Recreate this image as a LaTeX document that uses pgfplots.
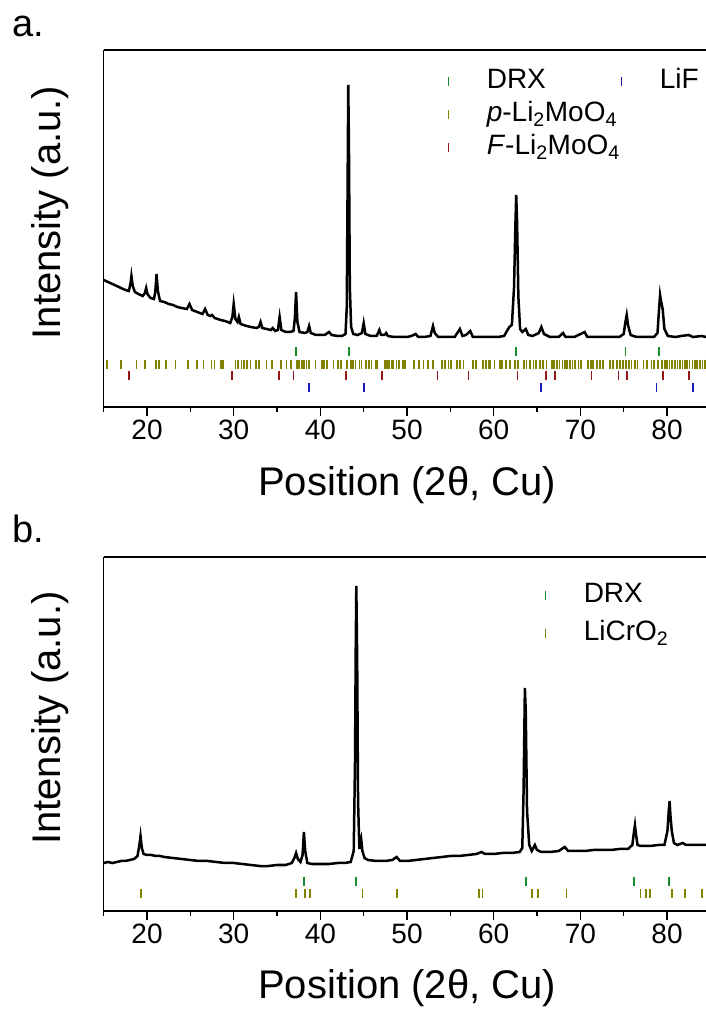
\documentclass[border=0pt]{standalone}
\usepackage{pgfplots}
\pgfplotsset{compat=1.18}
\usepackage{fontspec}
\setmainfont{Liberation Sans}
\definecolor{drxgreen}{RGB}{25,140,45}
\definecolor{olivebar}{RGB}{130,130,0}
\definecolor{fred}{RGB}{150,25,25}
\definecolor{lifblue}{RGB}{25,25,180}
\pgfplotsset{
  xrdaxis/.style={
    scale only axis,
    width=602.3pt,
    xmin=15, xmax=84.5,
    ymin=0,
    axis x line*=box,
    axis y line*=left,
    y axis line style={-},
    x axis line style={-},
    axis line style={line width=1.6pt},
    xtick={20,30,...,80},
    minor xtick={15,25,...,85},
    xtick pos=left,
    ytick=\empty,
    tick align=outside,
    major tick length=9pt,
    minor tick length=5pt,
    every tick/.style={black, line width=1.5pt},
    /pgf/number format/assume math mode=true,
    xticklabel style={font=\fontsize{28}{32}\selectfont},
    xlabel={Position (2θ, Cu)},
    ylabel={Intensity (a.u.)},
    every axis x label/.style={at={(axis description cs:0.504,-0.218)}, anchor=center, font=\fontsize{40}{46}\selectfont},
    every axis y label/.style={at={(axis description cs:-0.0897,0.545)}, anchor=center, rotate=90, font=\fontsize{40}{46}\selectfont},
    legend cell align=left,
    legend style={draw=none, fill=none, font=\fontsize{28}{32}\selectfont,
      nodes={inner sep=0pt, text height=21pt, text depth=7pt},
      /tikz/every even column/.append style={column sep=-2pt}},
  },
  tickrow/.style={only marks, mark=|, mark size=4.5pt, color=#1, mark options={line width=1.7pt, draw=#1},
    legend image code/.code={\path[draw=none] (0pt,0pt) -- (42pt,0pt); \draw[draw=#1, line width=1.2pt] (4pt,-4.5pt) -- (4pt,4.5pt);}},
}
\begin{document}
\begin{tikzpicture}
\path[use as bounding box] (0pt,0pt) rectangle (706pt,1013pt);
\node[anchor=base west, font=\fontsize{38}{44}\selectfont, inner sep=0pt] at (12pt,976pt) {a.};
\node[anchor=base west, font=\fontsize{38}{44}\selectfont, inner sep=0pt] at (12pt,470pt) {b.};
% ---------------- panel a ----------------
\begin{axis}[xrdaxis, at={(103.7pt,606pt)}, anchor=south west, height=357pt, ymax=357,
  legend columns=2,
  legend style={at={(axis description cs:0.561,0.958)}, anchor=north west, row sep=5pt}]
\addplot[black, line width=2.5pt, forget plot] coordinates {
(15.0,127) (15.5,125) (16.0,123) (16.5,121) (17.0,119) (17.5,117) (17.9,116) (18.1,124) (18.2,131) (18.35,121)
(18.6,115) (19.0,113) (19.5,111) (19.75,114) (19.9,119) (20.05,113) (20.4,109) (20.8,108) (20.95,115) (21.1,133)
(21.25,116) (21.5,106) (22.0,105) (22.5,103) (23.0,102) (23.5,100) (24.0,99) (24.6,98) (24.9,103) (25.2,97)
(25.8,95) (26.4,93) (26.7,98) (27.0,92) (27.3,91) (27.5,92) (27.8,89) (28.5,87) (29.0,86) (29.6,84)
(29.85,90) (30.0,103) (30.2,88) (30.45,85) (30.6,90) (30.8,83) (31.5,81) (32.0,80) (32.6,79) (32.9,80)
(33.1,85) (33.3,79) (33.8,78) (34.3,77) (34.5,79) (34.8,76) (35.1,77) (35.3,90) (35.5,77) (36.0,75)
(36.5,75) (36.9,76) (37.05,88) (37.2,115) (37.35,85) (37.6,75) (38.2,74) (38.5,75) (38.7,81) (38.9,74)
(39.5,72) (40.0,72) (40.5,72) (41.0,75) (41.3,72) (42.0,71) (42.5,71) (42.9,73) (43.05,100) (43.15,230)
(43.22,322) (43.3,260) (43.4,120) (43.55,80) (43.8,73) (44.3,72) (44.8,74) (45.0,84) (45.2,73) (45.8,71)
(46.5,71) (46.8,77) (47.0,72) (47.4,72) (47.6,74) (47.8,71) (48.5,70) (49.2,70) (50.0,70) (50.5,71)
(51.0,73) (51.3,70) (52.0,70) (52.7,71) (53.0,81) (53.2,74) (53.6,70) (54.5,70) (55.5,70) (56.1,78)
(56.4,71) (56.8,72) (57.3,76) (57.6,70) (58.5,70) (59.5,70) (60.5,70) (61.2,71) (61.8,80) (62.1,82)
(62.35,120) (62.5,180) (62.6,212) (62.7,185) (62.85,110) (63.05,78) (63.3,75) (63.7,78) (64.0,72) (64.5,71)
(65.2,74) (65.5,80) (65.8,73) (66.5,70) (67.5,70) (68.0,74) (68.3,70) (69.3,70) (70.5,75) (70.8,70)
(72.0,70) (73.5,70) (74.5,70) (75.0,73) (75.2,85) (75.35,92) (75.5,82) (75.8,72) (76.5,70) (77.5,70)
(78.5,70) (78.9,74) (79.1,100) (79.2,112) (79.35,104) (79.5,98) (79.7,78) (80.1,71) (81.0,70) (81.6,71)
(82.5,72) (83.0,70) (84.0,71) (84.5,70)
};
\addplot[tickrow=drxgreen] coordinates {(37.2,55) (43.3,55) (62.6,55) (75.2,55) (79.1,55)};
\addlegendentry{DRX}
\addplot[tickrow=lifblue] coordinates {(38.7,19.5) (45.0,19.5) (65.5,19.5) (78.8,19.5) (83.0,19.5)};
\addlegendentry{LiF}
\addplot[tickrow=olivebar] coordinates {
(15.35,42.5) (16.96,42.5) (18.8,42.5) (19.76,42.5) (21.0,42.5) (21.4,42.5) (22.2,42.5) (23.3,42.5) (24.76,42.5) (25.8,42.5)
(26.5,42.5) (27.45,42.5) (27.8,42.5) (28.5,42.5) (28.8,42.5) (30.2,42.5) (30.5,42.5) (30.9,42.5) (31.2,42.5) (31.5,42.5)
(31.95,42.5) (32.6,42.5) (32.9,42.5) (33.8,42.5) (34.4,42.5) (35.45,42.5) (36.1,42.5) (36.6,42.5) (37.3,42.5) (37.55,42.5)
(37.9,42.5) (38.1,42.5) (38.4,42.5) (38.7,42.5) (39.45,42.5) (40.2,42.5) (40.45,42.5) (40.8,42.5) (41.5,42.5) (42.05,42.5)
(42.4,42.5) (43.1,42.5) (43.5,42.5) (43.8,42.5) (44.05,42.5) (44.5,42.5) (44.75,42.5) (45.3,42.5) (45.6,42.5) (45.9,42.5)
(46.4,42.5) (46.6,42.5) (47.45,42.5) (47.7,42.5) (47.95,42.5) (48.2,42.5) (48.4,42.5) (48.8,42.5) (49.06,42.5) (49.55,42.5)
(49.75,42.5) (50.8,42.5) (51.4,42.5) (51.9,42.5) (52.45,42.5) (53.0,42.5) (54.0,42.5) (54.4,42.5) (54.8,42.5) (55.1,42.5)
(55.8,42.5) (56.1,42.5) (56.5,42.5) (57.6,42.5) (57.95,42.5) (58.8,42.5) (59.1,42.5) (59.4,42.5) (59.6,42.5) (60.1,42.5)
(60.7,42.5) (61.0,42.5) (61.4,42.5) (61.9,42.5) (62.45,42.5) (62.8,42.5) (63.5,42.5) (63.8,42.5) (64.2,42.5) (64.6,42.5)
(64.9,42.5) (65.35,42.5) (65.7,42.5) (66.1,42.5) (66.7,42.5) (66.95,42.5) (67.3,42.5) (67.6,42.5) (67.95,42.5) (68.2,42.5)
(68.5,42.5) (68.8,42.5) (69.1,42.5) (69.4,42.5) (69.8,42.5) (70.1,42.5) (70.9,42.5) (71.2,42.5) (71.5,42.5) (71.95,42.5)
(72.25,42.5) (72.6,42.5) (73.4,42.5) (73.8,42.5) (74.2,42.5) (74.6,42.5) (74.95,42.5) (75.3,42.5) (75.6,42.5) (75.9,42.5)
(76.3,42.5) (76.6,42.5) (77.3,42.5) (77.7,42.5) (78.2,42.5) (78.5,42.5) (79.0,42.5) (79.4,42.5) (79.8,42.5) (80.0,42.5)
(80.3,42.5) (80.6,42.5) (80.9,42.5) (81.2,42.5) (81.5,42.5) (81.8,42.5) (82.1,42.5) (82.3,42.5) (82.6,42.5) (82.95,42.5)
(83.2,42.5) (83.5,42.5) (83.8,42.5) (84.1,42.5) (84.4,42.5)
};
\addlegendentry{\textit{p}-Li\textsubscript{2}MoO\textsubscript{4}}
\addlegendimage{empty legend}
\addlegendentry{}
\addplot[tickrow=fred] coordinates {
(17.9,31) (29.8,31) (35.2,31) (36.9,31) (42.95,31) (47.1,31) (53.5,31) (57.1,31) (62.75,31) (66.0,31)
(67.1,31) (71.3,31) (74.4,31) (75.4,31) (79.5,31) (82.5,31)
};
\addlegendentry{\textit{F}-Li\textsubscript{2}MoO\textsubscript{4}}
\end{axis}
% ---------------- panel b ----------------
\begin{axis}[xrdaxis, at={(103.7pt,102pt)}, anchor=south west, height=354pt, ymax=354,
  legend style={at={(axis description cs:0.722,0.938)}, anchor=north west, row sep=10pt}]
\addplot[black, line width=2.5pt, forget plot] coordinates {
(15.0,48) (15.5,49) (16.0,48) (16.5,49) (17.0,50) (17.5,50) (18.0,51) (18.5,52) (18.9,55) (19.1,65)
(19.25,75) (19.4,63) (19.6,57) (20.0,56) (20.5,56) (21.0,55) (21.5,55) (22.0,54) (23.0,53) (24.0,52)
(25.0,51) (26.0,50) (27.0,50) (28.0,49) (29.0,48) (30.0,48) (31.0,47) (32.0,46) (33.0,45) (33.5,45)
(34.0,45) (35.0,46) (36.0,46) (36.7,48) (37.0,53) (37.2,58) (37.4,52) (37.7,49) (37.95,56) (38.1,79)
(38.25,60) (38.5,48) (39.0,47) (40.0,47) (41.0,47) (42.0,48) (42.8,48) (43.5,49) (43.85,60) (44.0,150)
(44.08,260) (44.15,325) (44.25,250) (44.35,110) (44.5,62) (44.6,70) (44.7,73) (44.85,60) (45.1,53) (45.5,51)
(46.5,50) (47.5,50) (48.3,51) (48.8,54) (49.2,50) (50.0,50) (51.0,51) (52.0,52) (53.0,53) (54.0,54)
(55.0,55) (56.0,55) (57.0,56) (58.0,57) (58.6,59) (59.0,57) (60.0,57) (61.0,58) (62.0,58) (63.0,59)
(63.3,63) (63.45,120) (63.6,223) (63.7,200) (63.85,100) (64.1,66) (64.4,60) (64.75,66) (65.0,61) (65.5,59)
(66.5,59) (67.5,60) (68.2,64) (68.6,60) (69.5,60) (70.5,60) (71.5,61) (72.5,61) (73.5,61) (74.5,62)
(75.5,62) (76.0,66) (76.2,80) (76.3,86) (76.4,78) (76.6,66) (77.0,65) (78.0,65) (79.0,66) (79.7,66)
(80.05,80) (80.2,100) (80.3,110) (80.4,95) (80.55,80) (80.8,68) (81.2,66) (81.8,68) (82.2,66) (83.0,66)
(84.0,66) (84.5,66)
};
\addplot[tickrow=drxgreen] coordinates {(38.14,30) (44.1,30) (63.7,30) (76.2,30) (80.2,30)};
\addlegendentry{DRX}
\addplot[tickrow=olivebar] coordinates {
(19.27,17.5) (37.15,17.5) (38.2,17.5) (38.8,17.5) (44.87,17.5) (48.87,17.5) (58.33,17.5) (58.72,17.5) (64.45,17.5) (65.15,17.5)
(68.4,17.5) (76.95,17.5) (77.6,17.5) (78.0,17.5) (80.6,17.5) (82.1,17.5) (84.0,17.5)
};
\addlegendentry{LiCrO\textsubscript{2}}
\end{axis}
\end{tikzpicture}
\end{document}
